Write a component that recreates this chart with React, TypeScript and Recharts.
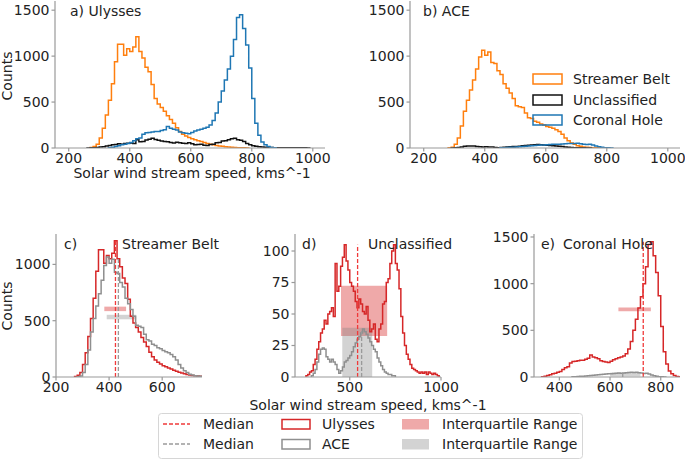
import React from 'react';
import { ComposedChart, Line, XAxis, YAxis, ReferenceLine, ReferenceArea } from 'recharts';

// every histogram uses 10 km/s bins; counts listed from the first bin edge
const binWidth = 10;

const ulyssesSBStart = 270;
const ulyssesSB = [5, 15, 40, 110, 215, 360, 520, 700, 940, 1130, 1130, 1010, 1080, 1050, 1100, 1210, 1050, 980, 880, 830, 690, 540, 480, 440, 400, 350, 310, 270, 220, 180, 150, 130, 115, 100, 90, 80, 70, 60, 50, 42, 35, 28, 22, 18, 14, 10, 8, 6, 4, 3, 2, 1];

const ulyssesUNStart = 260;
const ulyssesUN = [1, 2, 4, 5, 10, 14, 22, 28, 35, 38, 45, 42, 50, 52, 55, 48, 90, 68, 72, 88, 95, 105, 92, 85, 75, 72, 68, 60, 55, 62, 58, 52, 50, 56, 45, 36, 38, 42, 30, 28, 38, 42, 58, 60, 75, 78, 90, 100, 105, 90, 85, 70, 48, 35, 25, 18, 14, 10, 7, 6, 5, 4, 3, 4, 3, 4, 2, 4, 3, 2, 3, 2, 1];

const ulyssesCHStart = 330;
const ulyssesCH = [3, 8, 15, 25, 35, 40, 50, 60, 80, 100, 110, 150, 165, 170, 175, 180, 180, 190, 200, 235, 215, 205, 195, 175, 165, 160, 155, 170, 185, 195, 205, 215, 225, 250, 300, 380, 500, 620, 740, 860, 1000, 1180, 1420, 1450, 1300, 1120, 870, 540, 270, 140, 65, 35, 15, 6, 2];

const aceSBStart = 280;
const aceSB = [3, 8, 40, 110, 240, 400, 520, 630, 740, 860, 990, 1065, 1010, 1045, 930, 920, 840, 800, 700, 650, 600, 540, 460, 450, 440, 380, 330, 320, 290, 280, 260, 250, 235, 225, 215, 200, 180, 150, 110, 80, 55, 40, 25, 18, 12, 8, 6, 4, 3, 2, 1];

const aceUNStart = 290;
const aceUN = [1, 3, 6, 12, 18, 22, 23, 22, 16, 14, 12, 14, 12, 10, 6, 3, 5, 8, 12, 13, 15, 17, 20, 24, 27, 30, 32, 35, 38, 36, 34, 31, 28, 25, 22, 20, 15, 12, 9, 6, 4, 3, 2, 2, 1, 1];

const aceCHStart = 450;
const aceCH = [2, 3, 5, 7, 9, 12, 14, 17, 20, 22, 25, 28, 30, 32, 34, 36, 38, 40, 42, 40, 44, 46, 48, 50, 48, 52, 46, 42, 38, 40, 32, 22, 14, 8, 4, 2, 1];

// medians and interquartile ranges: streamer belt, unclassified, coronal hole
const medianUlysses = [424, 543, 731];
const medianAce = [435, 565, 650];
const iqrUlysses = [[382, 464], [452, 705], [633, 761]];
const iqrAce = [[391, 502], [459, 623], [600, 720]];

const speedTicksTop = [200, 400, 600, 800, 1000];
const countTicksTop = [0, 500, 1000, 1500];
const speedTicksSB = [200, 400, 600];
const countTicksSB = [0, 500, 1000];
const speedTicksUN = [500, 1000];
const countTicksUN = [0, 25, 50, 75, 100];
const speedTicksCH = [400, 600, 800];
const countTicksCH = [0, 500, 1000, 1500];

const ORANGE = '#ff7f0e';
const BLUE = '#1f77b4';
const BLACK = '#111111';
const RED = '#d62728';
const RED_MED = '#f03a3a';
const GREY = '#8f8f8f';
const FONT = 'DejaVu Sans, sans-serif';

const toSteps = (start: number, counts: number[]) => {
  const pts = [{ x: start, y: 0 }];
  counts.forEach((c, i) => pts.push({ x: start + i * binWidth, y: c }));
  pts.push({ x: start + counts.length * binWidth, y: 0 });
  return pts;
};

const YW = 50;
const TOP = 6;
const RIGHT = 22;
const XH = 24;

const axisStyle = { stroke: '#999', strokeWidth: 1.2 };
const tickStyle = { fill: '#222', fontSize: 14, fontFamily: FONT };

function Panel({ left, top, w, h, xDomain, yDomain, xTicks, yTicks, children }: any) {
  return (
    <div style={{ position: 'absolute', left: left - YW, top: top - TOP }}>
      <ComposedChart
        width={w + YW + RIGHT}
        height={h + TOP + XH}
        margin={{ top: TOP, right: RIGHT, left: 0, bottom: 0 }}
      >
        <XAxis
          dataKey="x"
          type="number"
          domain={xDomain}
          ticks={xTicks}
          allowDataOverflow
          interval={0}
          height={XH}
          tickSize={3.5}
          tickMargin={2}
          tick={tickStyle}
          axisLine={axisStyle}
          tickLine={axisStyle}
        />
        <YAxis
          type="number"
          domain={yDomain}
          ticks={yTicks}
          allowDataOverflow
          interval={0}
          width={YW}
          tickSize={3.5}
          tickMargin={2}
          tick={tickStyle}
          axisLine={axisStyle}
          tickLine={axisStyle}
        />
        {children}
      </ComposedChart>
    </div>
  );
}

const stepLine = (key: string, start: number, counts: number[], color: string) => (
  <Line
    key={key}
    data={toSteps(start, counts)}
    dataKey="y"
    type="stepAfter"
    stroke={color}
    strokeWidth={1.5}
    dot={false}
    activeDot={false}
    isAnimationActive={false}
  />
);

// comparison panel: IQR bands, medians and both spacecraft histograms
function comparison(i: number, uStart: number, u: number[], aStart: number, a: number[]) {
  const uMax = Math.max(...u);
  const aMax = Math.max(...a);
  return [
    <ReferenceArea key="iu" x1={iqrUlysses[i][0]} x2={iqrUlysses[i][1]} y1={uMax / 2 - 20} y2={uMax / 2 + 20}
      fill={RED} fillOpacity={0.4} stroke="none" ifOverflow="hidden" />,
    <ReferenceArea key="ia" x1={iqrAce[i][0]} x2={iqrAce[i][1]} y1={aMax / 2 - 20} y2={aMax / 2 + 20}
      fill="#808080" fillOpacity={0.35} stroke="none" ifOverflow="hidden" />,
    stepLine('u', uStart, u, RED),
    stepLine('a', aStart, a, GREY),
    <ReferenceLine key="mu" segment={[{ x: medianUlysses[i], y: 0 }, { x: medianUlysses[i], y: uMax }]}
      stroke={RED_MED} strokeDasharray="4 2" strokeWidth={1.3} />,
    <ReferenceLine key="ma" segment={[{ x: medianAce[i], y: 0 }, { x: medianAce[i], y: aMax }]}
      stroke="#9a9a9a" strokeDasharray="4 2" strokeWidth={1.3} />,
  ];
}

const txt = { fontFamily: FONT, fontSize: 14, fill: '#222' } as const;

export default function App() {
  return (
    <div style={{ position: 'absolute', left: 0, top: 0, width: 685, height: 459, background: '#fff', overflow: 'hidden' }}>
      <Panel left={55} top={1} w={270} h={147} xDomain={[155, 1040]} yDomain={[0, 1600]}
        xTicks={speedTicksTop} yTicks={countTicksTop}>
        {stepLine('sb', ulyssesSBStart, ulyssesSB, ORANGE)}
        {stepLine('un', ulyssesUNStart, ulyssesUN, BLACK)}
        {stepLine('ch', ulyssesCHStart, ulyssesCH, BLUE)}
      </Panel>
      <Panel left={410} top={1} w={270} h={147} xDomain={[155, 1040]} yDomain={[0, 1600]}
        xTicks={speedTicksTop} yTicks={countTicksTop}>
        {stepLine('sb', aceSBStart, aceSB, ORANGE)}
        {stepLine('un', aceUNStart, aceUN, BLACK)}
        {stepLine('ch', aceCHStart, aceCH, BLUE)}
      </Panel>
      <Panel left={56} top={234} w={146} h={143} xDomain={[200, 750]} yDomain={[0, 1270]}
        xTicks={speedTicksSB} yTicks={countTicksSB}>
        {comparison(0, ulyssesSBStart, ulyssesSB, aceSBStart, aceSB)}
      </Panel>
      <Panel left={295} top={234} w={146} h={143} xDomain={[200, 1000]} yDomain={[0, 113.5]}
        xTicks={speedTicksUN} yTicks={countTicksUN}>
        {comparison(1, ulyssesUNStart, ulyssesUN, aceUNStart, aceUN)}
      </Panel>
      <Panel left={534} top={234} w={146} h={143} xDomain={[300, 876]} yDomain={[0, 1532]}
        xTicks={speedTicksCH} yTicks={countTicksCH}>
        {comparison(2, ulyssesCHStart, ulyssesCH, aceCHStart, aceCH)}
      </Panel>

      <svg width={685} height={459} style={{ position: 'absolute', left: 0, top: 0, pointerEvents: 'none' }}>
        <text x={70} y={11} dominantBaseline="central" {...txt}>a) Ulysses</text>
        <text x={423} y={11} dominantBaseline="central" {...txt}>b) ACE</text>
        <text x={64} y={244} dominantBaseline="central" {...txt}>c)</text>
        <text x={122} y={244} dominantBaseline="central" {...txt}>Streamer Belt</text>
        <text x={302} y={244} dominantBaseline="central" {...txt}>d)</text>
        <text x={368} y={244} dominantBaseline="central" {...txt}>Unclassified</text>
        <text x={541} y={244} dominantBaseline="central" {...txt}>e)</text>
        <text x={563} y={244} dominantBaseline="central" {...txt}>Coronal Hole</text>

        <text x={7} y={76} transform="rotate(-90 7 76)" textAnchor="middle" dominantBaseline="central" {...txt}>Counts</text>
        <text x={7} y={306} transform="rotate(-90 7 306)" textAnchor="middle" dominantBaseline="central" {...txt}>Counts</text>
        <text x={192} y={173} textAnchor="middle" dominantBaseline="central" {...txt}>Solar wind stream speed, kms^-1</text>
        <text x={368} y={405} textAnchor="middle" dominantBaseline="central" {...txt}>Solar wind stream speed, kms^-1</text>

        {/* legend of panel b */}
        {[
          ['Streamer Belt', ORANGE, 79],
          ['Unclassified', BLACK, 100],
          ['Coronal Hole', BLUE, 120],
        ].map(([label, color, y]) => (
          <g key={label as string}>
            <rect x={533} y={(y as number) - 5} width={29} height={10} fill="none" stroke={color as string} strokeWidth={1.5} />
            <text x={573} y={y as number} dominantBaseline="central" {...txt}>{label}</text>
          </g>
        ))}

        {/* bottom legend */}
        <rect x={158.5} y={413.5} width={424} height={45} rx={3} fill="#fff" stroke="#d6d6d6" />
        <line x1={163} x2={190} y1={424} y2={424} stroke={RED_MED} strokeDasharray="4 2" strokeWidth={1.3} />
        <text x={203} y={424} dominantBaseline="central" {...txt}>Median</text>
        <line x1={163} x2={190} y1={444} y2={444} stroke="#9a9a9a" strokeDasharray="4 2" strokeWidth={1.3} />
        <text x={203} y={444} dominantBaseline="central" {...txt}>Median</text>
        <rect x={282} y={419.5} width={28} height={9.5} fill="none" stroke={RED} strokeWidth={1.5} />
        <text x={322} y={424} dominantBaseline="central" {...txt}>Ulysses</text>
        <rect x={282} y={439.5} width={28} height={9.5} fill="none" stroke={GREY} strokeWidth={1.5} />
        <text x={322} y={444} dominantBaseline="central" {...txt}>ACE</text>
        <rect x={402} y={419} width={27} height={10.5} fill={RED} fillOpacity={0.4} />
        <text x={442} y={424} dominantBaseline="central" {...txt}>Interquartile Range</text>
        <rect x={402} y={439} width={27} height={10.5} fill="#808080" fillOpacity={0.35} />
        <text x={442} y={444} dominantBaseline="central" {...txt}>Interquartile Range</text>
      </svg>
    </div>
  );
}
